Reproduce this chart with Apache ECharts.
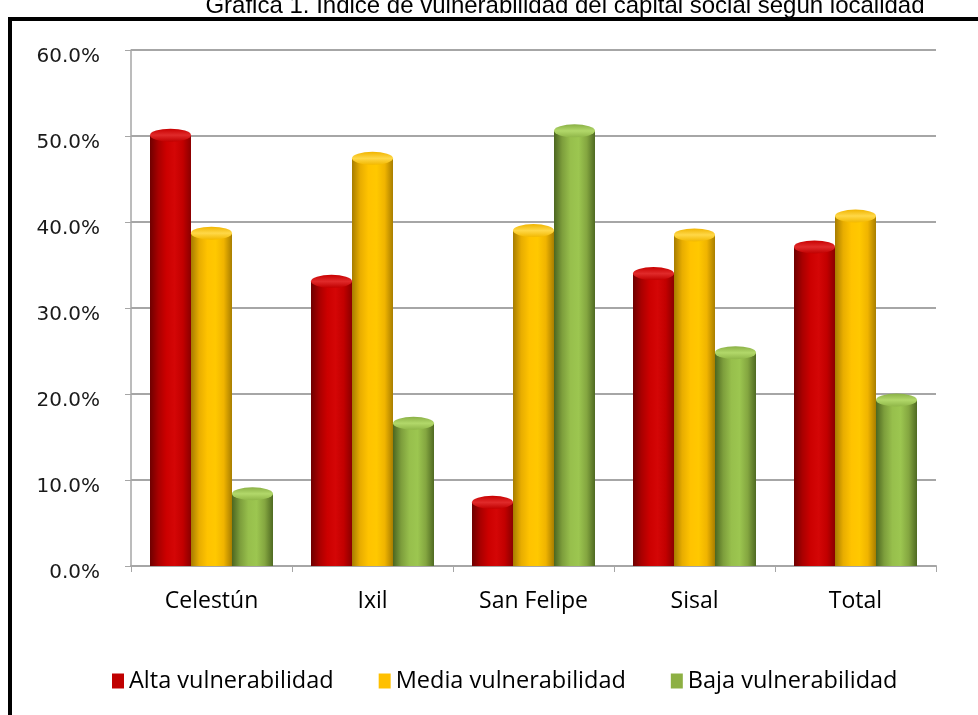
<!DOCTYPE html>
<html>
<head>
<meta charset="utf-8">
<title>Gráfica 1</title>
<script src="https://cdn.jsdelivr.net/npm/echarts@6/dist/echarts.min.js"></script>
<style>
  html, body { margin: 0; padding: 0; background: #fff; }
  #chart { width: 978px; height: 715px; }
</style>
</head>
<body>
<div id="chart"></div>
<script>
// datos (porcentaje)
const categories = ["Celestún", "Ixil", "San Felipe", "Sisal", "Total"];
const seriesNames = ["Alta vulnerabilidad", "Media vulnerabilidad", "Baja vulnerabilidad"];
const alta = [50.1, 33.1, 7.4, 34.0, 37.1];
const media = [38.7, 47.4, 39.0, 38.5, 40.7];
const baja = [8.4, 16.6, 50.6, 24.8, 19.3];
const yTicks = [0, 10, 20, 30, 40, 50, 60];

const chart = echarts.init(document.getElementById("chart"));

function cylinder(stops) {
  return new echarts.graphic.LinearGradient(0, 0, 1, 0,
    stops.map((c, i) => ({ offset: i / (stops.length - 1), color: c })));
}

const bodies = [
  cylinder(["#6e0000", "#a80000", "#cc0000", "#d40606", "#c20000", "#8a0000"]),
  cylinder(["#a67c00", "#e8ad00", "#ffc300", "#ffc800", "#f0b400", "#a87e00"]),
  cylinder(["#4c6620", "#7d9e3c", "#97bf4c", "#9cc650", "#84a640", "#4f6a22"]),
];
const tops = [
  new echarts.graphic.LinearGradient(0, 0, 0, 1, [
    { offset: 0, color: "#c80000" }, { offset: 0.5, color: "#e02a2a" }, { offset: 1, color: "#c00000" }]),
  new echarts.graphic.LinearGradient(0, 0, 0, 1, [
    { offset: 0, color: "#f0b400" }, { offset: 0.5, color: "#ffd848" }, { offset: 1, color: "#f2b800" }]),
  new echarts.graphic.LinearGradient(0, 0, 0, 1, [
    { offset: 0, color: "#8ab046" }, { offset: 0.5, color: "#b2d86a" }, { offset: 1, color: "#8fb648" }]),
];
const legendIcons = ["#c00000", "#ffc000", "#8db043"];
const values = [alta, media, baja];

const barSeries = values.map((data, i) => ({
  name: seriesNames[i],
  type: "bar",
  data: data,
  barWidth: 41,
  barGap: "0%",
  itemStyle: { color: bodies[i] },
  z: 2,
}));

const topSeries = values.map((data, i) => ({
  name: "tapa" + i,
  type: "pictorialBar",
  data: data,
  barWidth: 41,
  barGap: "0%",
  symbol: "circle",
  symbolSize: [41, 13],
  symbolPosition: "end",
  symbolOffset: [0, "-50%"],
  itemStyle: { color: tops[i] },
  z: 3,
}));

chart.setOption({
  backgroundColor: "#fff",
  animation: false,
  title: {
    text: "Gráfica 1. Índice de vulnerabilidad del capital social según localidad",
    left: 560,
    top: -11,
    textAlign: "center",
    textStyle: {
      fontFamily: "Liberation Sans",
      fontSize: 24,
      fontWeight: "normal",
      color: "#000",
    },
  },
  graphic: [
    {
      type: "rect",
      shape: { x: 10, y: 19, width: 1000, height: 760 },
      style: { fill: "none", stroke: "#000", lineWidth: 4 },
      z: 10,
    },
  ],
  legend: {
    data: seriesNames.map((n, i) => ({ name: n, itemStyle: { color: legendIcons[i] } })),
    left: 107,
    top: 664,
    icon: "rect",
    itemWidth: 12,
    itemHeight: 15,
    itemGap: 45,
    textStyle: { fontFamily: "Open Sans", fontSize: 23.5, color: "#000" },
  },
  grid: {
    left: 131,
    right: 42,
    top: 50,
    bottom: 149,
  },
  xAxis: {
    type: "category",
    data: categories,
    axisLine: { lineStyle: { color: "#a6a6a6", width: 2 } },
    axisTick: { show: true, length: 6, lineStyle: { color: "#a6a6a6" } },
    axisLabel: {
      margin: 24,
      fontFamily: "Open Sans",
      fontSize: 23,
      color: "#000",
    },
  },
  yAxis: {
    type: "value",
    min: yTicks[0],
    max: yTicks[yTicks.length - 1],
    interval: 10,
    axisLine: { show: true, lineStyle: { color: "#a6a6a6", width: 1.5 } },
    axisTick: { show: true, length: 6, lineStyle: { color: "#a6a6a6" } },
    splitLine: { lineStyle: { color: "#a6a6a6", width: 2 } },
    axisLabel: {
      margin: 31,
      fontFamily: "DejaVu Sans",
      fontSize: 20,
      color: "#1a1a1a",
      verticalAlign: "top",
      lineHeight: 14,
      formatter: (v) => v.toFixed(1) + "%",
    },
  },
  series: [...barSeries, ...topSeries],
});
</script>
</body>
</html>
